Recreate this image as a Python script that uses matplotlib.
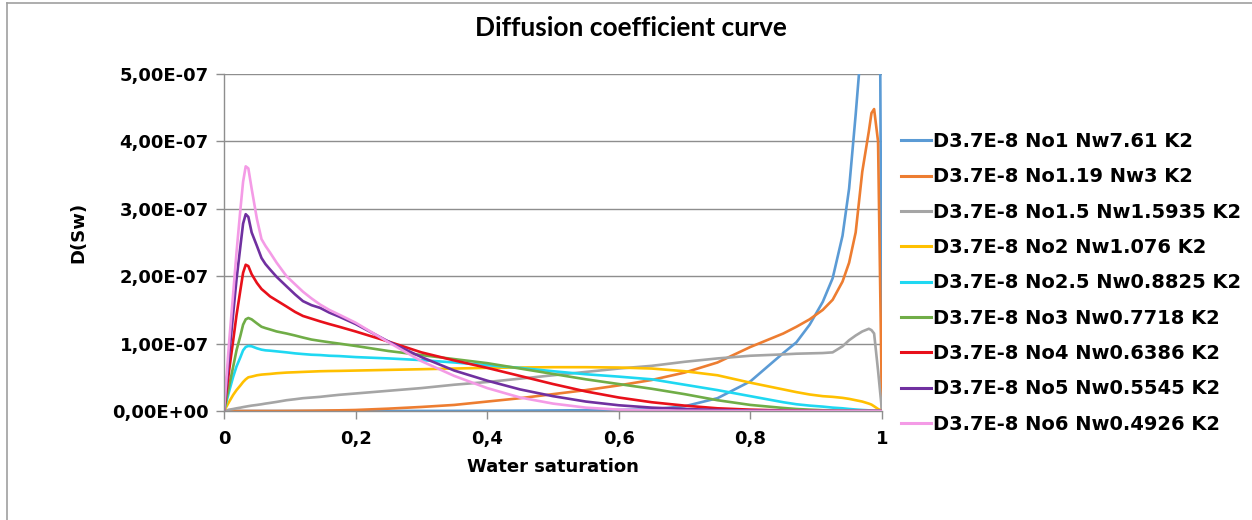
import matplotlib
matplotlib.use("Agg")
import matplotlib.pyplot as plt
from matplotlib.lines import Line2D

# ---- data (D values in units of 1e-7) ----
sw = [0, 0.008, 0.014, 0.019, 0.025, 0.029, 0.033, 0.037, 0.042, 0.05, 0.057, 0.063,
      0.07, 0.08, 0.095, 0.108, 0.12, 0.133, 0.146, 0.16, 0.175, 0.2,
      0.25, 0.3, 0.35, 0.4, 0.45, 0.5, 0.55, 0.6, 0.65, 0.7, 0.75, 0.8, 0.85, 0.87,
      0.89, 0.91, 0.925, 0.94, 0.95, 0.96, 0.97, 0.98, 0.984, 0.988, 0.994, 1.0]

labels = [
    "D3.7E-8 No1 Nw7.61 K2",
    "D3.7E-8 No1.19 Nw3 K2",
    "D3.7E-8 No1.5 Nw1.5935 K2",
    "D3.7E-8 No2 Nw1.076 K2",
    "D3.7E-8 No2.5 Nw0.8825 K2",
    "D3.7E-8 No3 Nw0.7718 K2",
    "D3.7E-8 No4 Nw0.6386 K2",
    "D3.7E-8 No5 Nw0.5545 K2",
    "D3.7E-8 No6 Nw0.4926 K2",
]

d_no1 = [0, 0, 0, 0, 0, 0, 0, 0, 0, 0, 0, 0,
         0, 0, 0, 0, 0, 0, 0, 0, 0, 0,
         0, 0.001, 0.002, 0.003, 0.005, 0.008, 0.012, 0.016, 0.025, 0.07, 0.19, 0.44, 0.86, 1.02,
         1.28, 1.62, 1.97, 2.6, 3.3, 4.4, 5.6, 7.5, 8.5, 9.5, 11.5, 0]
d_no119 = [0, 0, 0, 0, 0, 0, 0, 0, 0, 0, 0, 0,
           0, 0, 0.001, 0.002, 0.003, 0.004, 0.006, 0.008, 0.01, 0.015,
           0.035, 0.06, 0.09, 0.14, 0.19, 0.25, 0.31, 0.38, 0.46, 0.57, 0.72, 0.95, 1.15, 1.25,
           1.36, 1.5, 1.65, 1.92, 2.2, 2.65, 3.55, 4.15, 4.42, 4.48, 4.0, 0]
d_no15 = [0, 0.02, 0.03, 0.04, 0.05, 0.058, 0.065, 0.072, 0.08, 0.09, 0.1, 0.11,
          0.12, 0.135, 0.16, 0.175, 0.19, 0.2, 0.21, 0.225, 0.24, 0.26,
          0.3, 0.34, 0.39, 0.43, 0.48, 0.53, 0.58, 0.63, 0.67, 0.73, 0.78, 0.82, 0.84, 0.85,
          0.855, 0.86, 0.87, 0.96, 1.05, 1.12, 1.18, 1.22, 1.2, 1.15, 0.6, 0]
d_no2 = [0, 0.14, 0.24, 0.31, 0.38, 0.43, 0.47, 0.5, 0.51, 0.53, 0.54, 0.545,
         0.55, 0.56, 0.57, 0.575, 0.58, 0.585, 0.59, 0.593, 0.595, 0.6,
         0.61, 0.62, 0.63, 0.64, 0.645, 0.65, 0.65, 0.645, 0.63, 0.59, 0.53, 0.42, 0.32, 0.28,
         0.245, 0.22, 0.21, 0.195, 0.18, 0.16, 0.14, 0.11, 0.095, 0.07, 0.03, 0]
d_no25 = [0, 0.3, 0.51, 0.66, 0.8, 0.9, 0.95, 0.965, 0.96, 0.93, 0.91, 0.9,
          0.895, 0.885, 0.87, 0.855, 0.845, 0.835, 0.83, 0.82, 0.815, 0.8,
          0.78, 0.755, 0.72, 0.68, 0.64, 0.59, 0.545, 0.51, 0.47, 0.39, 0.31, 0.22, 0.13, 0.1,
          0.08, 0.065, 0.05, 0.04, 0.03, 0.022, 0.015, 0.01, 0.008, 0.005, 0.002, 0]
d_no3 = [0, 0.38, 0.66, 0.9, 1.12, 1.28, 1.36, 1.38, 1.36, 1.3, 1.25, 1.23,
         1.21, 1.18, 1.15, 1.12, 1.09, 1.06, 1.04, 1.02, 1.0, 0.965,
         0.89, 0.83, 0.77, 0.71, 0.63, 0.55, 0.47, 0.4, 0.33, 0.25, 0.16, 0.09, 0.045, 0.03,
         0.02, 0.012, 0.008, 0.005, 0.003, 0.002, 0.001, 0.0005, 0, 0, 0, 0]
d_no4 = [0, 0.62, 1.05, 1.42, 1.8, 2.05, 2.17, 2.15, 2.03, 1.9, 1.81, 1.76,
         1.7, 1.64, 1.55, 1.47, 1.41, 1.37, 1.33, 1.29, 1.25, 1.18,
         1.03, 0.87, 0.75, 0.64, 0.52, 0.4, 0.29, 0.2, 0.13, 0.08, 0.04, 0.02, 0.008, 0.005,
         0.003, 0.002, 0.001, 0, 0, 0, 0, 0, 0, 0, 0, 0]
d_no5 = [0, 0.85, 1.45, 1.95, 2.45, 2.78, 2.92, 2.88, 2.65, 2.45, 2.27, 2.18,
         2.1, 1.99, 1.85, 1.73, 1.63, 1.57, 1.53, 1.46, 1.4, 1.29,
         1.03, 0.8, 0.6, 0.45, 0.32, 0.22, 0.14, 0.085, 0.05, 0.03, 0.015, 0.007, 0.003, 0.002,
         0.001, 0, 0, 0, 0, 0, 0, 0, 0, 0, 0, 0]
d_no6 = [0, 1.05, 1.75, 2.35, 3.0, 3.4, 3.63, 3.6, 3.3, 2.85, 2.55, 2.45,
         2.35, 2.2, 2.0, 1.88, 1.77, 1.67, 1.58, 1.5, 1.43, 1.31,
         1.02, 0.74, 0.52, 0.34, 0.2, 0.11, 0.05, 0.02, 0.008, 0.003, 0.001, 0, 0, 0,
         0, 0, 0, 0, 0, 0, 0, 0, 0, 0, 0, 0]

series = [d_no1, d_no119, d_no15, d_no2, d_no25, d_no3, d_no4, d_no5, d_no6]
colors = ["#5B9BD5", "#ED7D31", "#A5A5A5", "#FFC000", "#1FD8F2",
          "#70AD47", "#E8101A", "#7030A0", "#F49BE6"]

yticks = [0, 1e-7, 2e-7, 3e-7, 4e-7, 5e-7]
ytick_labels = ["0,00E+00", "1,00E-07", "2,00E-07", "3,00E-07", "4,00E-07", "5,00E-07"]
xticks = [0, 0.2, 0.4, 0.6, 0.8, 1.0]
xtick_labels = ["0", "0,2", "0,4", "0,6", "0,8", "1"]

W, H = 1252, 520
fig = plt.figure(figsize=(W / 100, H / 100), dpi=100)
fig.patch.set_facecolor("white")

x0, x1, y0, y1 = 224, 882, 74, 411
ax = fig.add_axes([x0 / W, 1 - y1 / H, (x1 - x0) / W, (y1 - y0) / H])

handles = []
for vals, col, lab in zip(series, colors, labels):
    ax.plot(sw, [v * 1e-7 for v in vals], color=col, lw=1.9, label=lab,
            solid_joinstyle="round", clip_on=True)
    handles.append(Line2D([0], [0], color=col, lw=2.2))

gridc = "#8E8E8E"
ax.set_xlim(0, 1)
ax.set_ylim(0, 5e-7)
ax.set_yticks(yticks)
ax.set_yticklabels(ytick_labels)
ax.set_xticks(xticks)
ax.set_xticklabels(xtick_labels)
ax.yaxis.grid(True, color=gridc, lw=1.0)
ax.set_axisbelow(True)
for s in ["top", "right"]:
    ax.spines[s].set_visible(False)
for s in ["left", "bottom"]:
    ax.spines[s].set_color(gridc)
    ax.spines[s].set_linewidth(1.0)
ax.tick_params(axis="both", direction="out", length=6, width=1.0, color=gridc,
               labelsize=13, pad=5)
for t in ax.get_xticklabels() + ax.get_yticklabels():
    t.set_fontweight("bold")
ax.tick_params(axis="x", pad=8)

fig.text(553 / W, 1 - 467 / H, "Water saturation", ha="center", va="center",
         fontsize=13, fontweight="bold")
fig.text(78 / W, 1 - 232 / H, "D(Sw)", ha="center", va="center", rotation=90,
         fontsize=13, fontweight="bold")
fig.text(631 / W, 1 - 28 / H, "Diffusion coefficient curve", ha="center", va="center",
         fontsize=19, fontweight="bold", family=["Lato", "DejaVu Sans"])

leg = fig.legend(handles, labels, loc="upper left",
                 bbox_to_anchor=(901 / W, 1 - 132 / H),
                 frameon=False, fontsize=14, handlelength=1.55, handletextpad=0.1,
                 labelspacing=0.84, borderpad=0, borderaxespad=0)
for t in leg.get_texts():
    t.set_fontweight("bold")

# chart border (top and left visible)
fig.add_artist(Line2D([7 / W, 7 / W], [0, 1 - 3 / H], color="#A0A0A0", lw=1.2,
                      transform=fig.transFigure))
fig.add_artist(Line2D([7 / W, 1], [1 - 3 / H, 1 - 3 / H], color="#A0A0A0", lw=1.2,
                      transform=fig.transFigure))

fig.savefig("out.png", dpi=100, facecolor="white")
